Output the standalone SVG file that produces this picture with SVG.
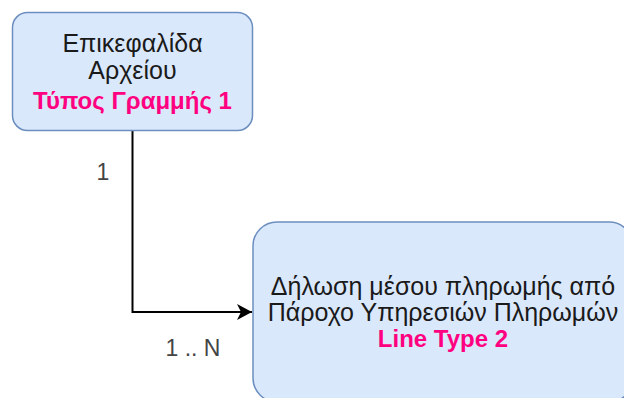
<svg xmlns="http://www.w3.org/2000/svg" width="624" height="398" viewBox="0 0 624 398">
<style>
.node{fill:#dae8fc;stroke:#6c8ebf;stroke-width:1.5}
.t{font-family:"Liberation Sans",Arial,sans-serif;font-size:25px;fill:#1a1a1a;text-anchor:middle}
.p{fill:#ff0080;font-weight:bold;font-size:24px}
.lbl{font-family:"Liberation Sans",Arial,sans-serif;font-size:23px;fill:#444;text-anchor:middle}
.edge{fill:none;stroke:#000;stroke-width:2}
</style>
<defs>
<marker id="arr" markerUnits="userSpaceOnUse" markerWidth="18" markerHeight="18" refX="16" refY="9" orient="auto">
<path d="M1,1 L16,9 L1,17 L5,9 Z" fill="#000"/>
</marker>
</defs>
<g id="edges">
<path class="edge" d="M132.5,131 V312 H252" marker-end="url(#arr)"/>
<text class="lbl" x="103" y="180">1</text>
<text class="lbl" x="193" y="356">1 .. N</text>
</g>
<g id="node1">
<rect class="node" x="12.5" y="12.5" width="240" height="118" rx="15"/>
<text class="t" x="132.5" y="52">Επικεφαλίδα</text>
<text class="t" x="132.5" y="79">Αρχείου</text>
<text class="t p" x="132.5" y="109">Τύπος Γραμμής 1</text>
</g>
<g id="node2">
<rect class="node" x="253" y="222" width="380" height="180" rx="24"/>
<text class="t" x="443" y="295">Δήλωση μέσου πληρωμής από</text>
<text class="t" x="443" y="321">Πάροχο Υπηρεσιών Πληρωμών</text>
<text class="t p" x="443" y="347">Line Type 2</text>
</g>
</svg>
